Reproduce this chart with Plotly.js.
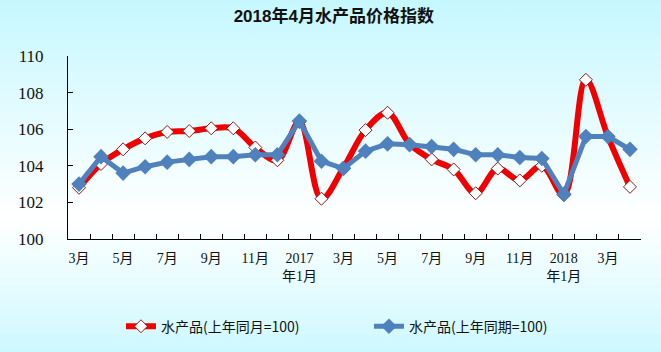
<!DOCTYPE html>
<html>
<head>
<meta charset="utf-8">
<script src="https://cdn.plot.ly/plotly-3.0.1.min.js"></script>
<style>
html,body{margin:0;padding:0;}
body{width:661px;height:352px;background:linear-gradient(to bottom,#c6f7ff 0%,#e6fcff 35%,#ffffff 62%,#f2feff 72%,#cdf8ff 100%);}
#chart{width:661px;height:352px;}
</style>
</head>
<body>
<div id="chart"></div>
<script>
const months = ["2016-03","2016-04","2016-05","2016-06","2016-07","2016-08","2016-09","2016-10","2016-11","2016-12",
  "2017-01","2017-02","2017-03","2017-04","2017-05","2017-06","2017-07","2017-08","2017-09","2017-10","2017-11","2017-12",
  "2018-01","2018-02","2018-03","2018-04"];
const tickLabels = ["3月","","5月","","7月","","9月","","11月","","2017<br>年1月","","3月","","5月","","7月","","9月","","11月","","2018<br>年1月","","3月",""];
const sameMonth = [102.8,104.1,104.9,105.5,105.85,105.9,106.05,106.05,105.0,104.3,
  106.4,102.2,103.9,105.95,106.9,105.2,104.35,103.8,102.5,103.85,103.2,104.0,
  102.4,108.7,105.6,102.85];
const samePeriod = [103.0,104.5,103.6,103.95,104.2,104.35,104.5,104.5,104.6,104.6,
  106.45,104.25,103.85,104.8,105.2,105.15,105.05,104.9,104.6,104.6,104.45,104.4,
  102.45,105.6,105.6,104.9];

const serif = '"Liberation Serif","Times New Roman", "Noto Sans CJK SC", serif';
const traces = [
  {x: months, y: sameMonth, name: "水产品(上年同月=100)", type: "scatter", mode: "lines+markers",
   line: {color: "#f00000", width: 6, shape: "spline", smoothing: 1},
   marker: {symbol: "diamond", size: 10, color: "#ffffff", line: {color: "#8b1a1a", width: 1}}},
  {x: months, y: samePeriod, name: "水产品(上年同期=100)", type: "scatter", mode: "lines+markers",
   line: {color: "#4f81bd", width: 5},
   marker: {symbol: "diamond", size: 12, color: "#4f81bd"}}
];
const layout = {
  width: 661, height: 352,
  paper_bgcolor: "rgba(0,0,0,0)", plot_bgcolor: "rgba(0,0,0,0)",
  margin: {l: 68, r: 20, t: 56, b: 113, autoexpand: false},
  title: {text: "<b>2018年4月水产品价格指数</b>", x: 0.505, xanchor: "center", y: 0.955, yanchor: "middle",
    font: {family: 'Arial, "Liberation Sans", "Noto Sans CJK SC", sans-serif', size: 17, color: "#111"}},
  showlegend: true,
  legend: {orientation: "h", xref: "container", x: 0.183, xanchor: "left", yref: "container", y: 0.072, yanchor: "middle",
    entrywidth: 203, entrywidthmode: "pixels", itemwidth: 30,
    font: {family: '"Noto Sans CJK SC", sans-serif', size: 14, color: "#111"}, bgcolor: "rgba(0,0,0,0)"},
  xaxis: {type: "category", tickvals: months, ticktext: tickLabels, tickson: "boundaries",
    ticks: "inside", ticklen: 5, tickcolor: "#000", showline: true, linecolor: "#000", linewidth: 1,
    showgrid: false, zeroline: false, range: [-0.5, 25.5], tickangle: 0, ticklabelstandoff: 6,
    tickfont: {family: serif, size: 14, color: "#111"}},
  yaxis: {range: [100, 110], dtick: 2, tick0: 100, ticks: "inside", ticklen: 5, tickcolor: "#000",
    showline: true, linecolor: "#000", linewidth: 1, showgrid: false, zeroline: false,
    ticklabelstandoff: 20,
    tickfont: {family: serif, size: 17, color: "#111"}}
};
Plotly.newPlot("chart", traces, layout, {staticPlot: true, displayModeBar: false});
</script>
</body>
</html>
